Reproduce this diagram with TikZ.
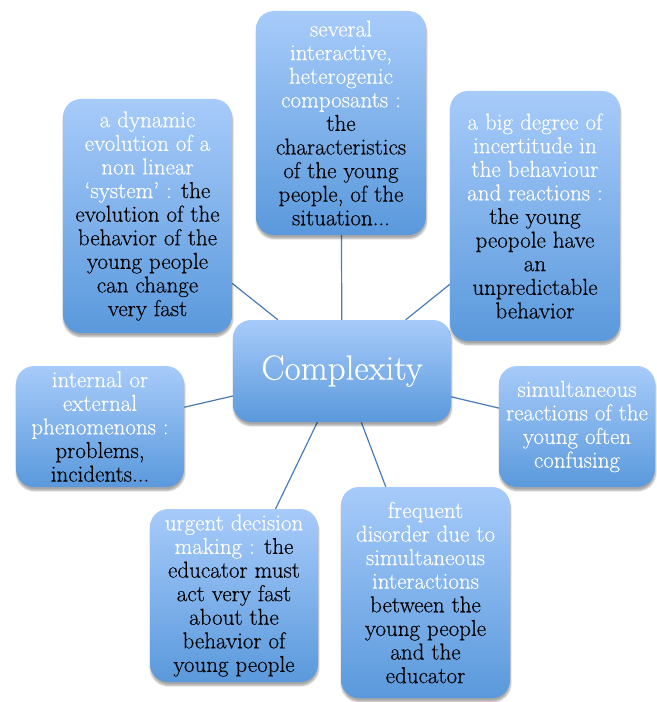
\documentclass[tikz,border=0pt]{standalone}
\usepackage{fontspec}
\setmainfont{Latin Modern Roman}[FakeBold=0.35]
\usetikzlibrary{shadows.blur,backgrounds}
\definecolor{boxtop}{HTML}{A7CBFA}
\definecolor{boxbot}{HTML}{5A99DC}
\definecolor{linkcol}{HTML}{4A7BB5}
\tikzset{
  bubble/.style={rectangle, rounded corners=18bp, top color=boxtop, bottom color=boxbot,
    draw=none, inner sep=0pt, align=center, text=black,
    font=\fontsize{23bp}{23.6bp}\selectfont,
    blur shadow={shadow blur steps=6, shadow xshift=0.5bp, shadow yshift=-3.5bp, shadow opacity=35}},
  hub/.style={bubble, text=white, font=\fontsize{35bp}{40bp}\selectfont},
  link/.style={draw=linkcol, line width=1.2bp}
}
\newcommand{\wt}[1]{\textcolor{white}{#1}}
\begin{document}
\begin{tikzpicture}[x=1bp,y=-1bp]
\useasboundingbox (0,0) rectangle (657,702);
\node[hub, minimum width=218bp, minimum height=102bp] (c) at (342,371) {Complexity};
\node[bubble, minimum width=170bp, minimum height=224bp] (top) at (341,123)
 {\wt{several}\\ \wt{interactive,}\\ \wt{heterogenic}\\ \wt{composants :}\\ the\\ characteristics\\ of the young\\ people, of the\\ situation...};
\node[bubble, minimum width=169bp, minimum height=234bp] (lt) at (147.5,216)
 {\wt{a dynamic}\\ \wt{evolution of a}\\ \wt{non linear}\\ \wt{`system' :} the\\ evolution of the\\ behavior of the\\ young people\\ can change\\ very fast};
\node[bubble, minimum width=170bp, minimum height=250bp] (rt) at (535,216)
 {\wt{a big degree of}\\ \wt{incertitude in}\\ \wt{the behaviour}\\ \wt{and reactions :}\\ the young\\ peopole have\\ an\\ unpredictable\\ behavior};
\node[bubble, minimum width=168bp, minimum height=121bp] (lm) at (100,426.5)
 {\wt{internal or}\\ \wt{external}\\ \wt{phenomenons :}\\ problems,\\ incidents...};
\node[bubble, minimum width=156bp, minimum height=121bp] (rm) at (577,426.5)
 {\wt{simultaneous}\\ \wt{reactions of the}\\ \wt{young often}\\ \wt{confusing}};
\node[bubble, minimum width=168bp, minimum height=173bp] (bl) at (234,595.5)
 {\wt{urgent decision}\\ \wt{making :} the\\ educator must\\ act very fast\\ about the\\ behavior of\\ young people};
\node[bubble, minimum width=169bp, minimum height=211bp] (br) at (425.5,592.5)
 {\wt{frequent}\\ \wt{disorder due to}\\ \wt{simultaneous}\\ \wt{interactions}\\ between the\\ young people\\ and the\\ educator};
\begin{scope}[on background layer]
\draw[link] (c) -- (top);
\draw[link] (c) -- (lt);
\draw[link] (c) -- (rt);
\draw[link] (c) -- (lm);
\draw[link] (c) -- (rm);
\draw[link] (c) -- (bl);
\draw[link] (c) -- (br);
\end{scope}
\end{tikzpicture}
\end{document}
